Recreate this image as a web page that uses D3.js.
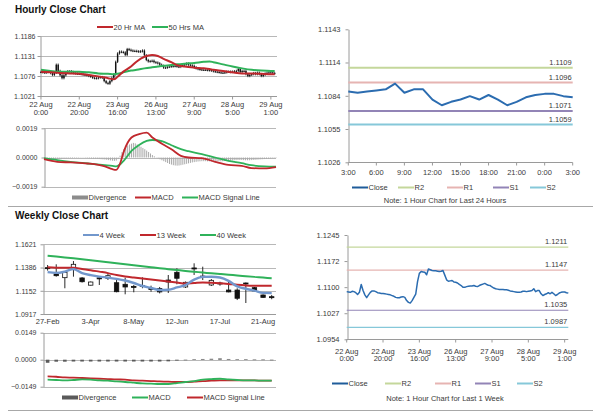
<!DOCTYPE html>
<html>
<head>
<meta charset="utf-8">
<script src="https://cdn.jsdelivr.net/npm/d3@7"></script>
<style>
  body { margin: 0; background: #fff; }
  svg text { font-family: Arial, "Liberation Sans", sans-serif; fill: #3a3a3a; }
</style>
</head>
<body>
<svg id="chart" width="600" height="413"></svg>
<script>
// ---- Hourly data (22 Aug 0:00 -> 29 Aug 3:00, trading hours only) ----
const hourTickIndex = [0, 20, 40, 60, 80, 100, 120];
const hourTickLabels = [
  ['22 Aug', '0:00'], ['22 Aug', '20:00'], ['23 Aug', '16:00'], ['26 Aug', '13:00'],
  ['27 Aug', '9:00'], ['28 Aug', '5:00'], ['29 Aug', '1:00']
];
const hourlyClose = [
  1.1087, 1.1086, 1.1085, 1.1088, 1.1087, 1.1084, 1.1079, 1.1085, 1.1107, 1.1090,
  1.1078, 1.1070, 1.1078, 1.1085, 1.1089, 1.1089, 1.1087, 1.1084, 1.1083, 1.1082,
  1.1082, 1.1081, 1.1080, 1.1079, 1.1078, 1.1076, 1.1074, 1.1071, 1.1070, 1.1070,
  1.1072, 1.1073, 1.1071, 1.1062, 1.1057, 1.1055, 1.1062, 1.1071, 1.1080, 1.1115,
  1.1138, 1.1143, 1.1142, 1.1141, 1.1134, 1.1150, 1.1148, 1.1146, 1.1145, 1.1145,
  1.1144, 1.1143, 1.1144, 1.1146, 1.1133, 1.1120, 1.1116, 1.1117, 1.1118, 1.1114,
  1.1113, 1.1111, 1.1107, 1.1104, 1.1099, 1.1099, 1.1101, 1.1102, 1.1103, 1.1103,
  1.1104, 1.1102, 1.1101, 1.1104, 1.1106, 1.1108, 1.1110, 1.1107, 1.1105, 1.1104,
  1.1100, 1.1097, 1.1095, 1.1094, 1.1093, 1.1093, 1.1093, 1.1092, 1.1092, 1.1091,
  1.1089, 1.1088, 1.1087, 1.1086, 1.1085, 1.1085, 1.1086, 1.1088, 1.1088, 1.1087,
  1.1088, 1.1089, 1.1090, 1.1095, 1.1087, 1.1090, 1.1090, 1.1081, 1.1076, 1.1079,
  1.1081, 1.1084, 1.1081, 1.1085, 1.1081, 1.1076, 1.1079, 1.1083, 1.1085, 1.1086,
  1.1086, 1.1084, 1.1083
];
const hourPriceTicks = [1.1021, 1.1076, 1.1131, 1.1186];
// moving averages, read at these hour indices
const maIdx = [0, 5, 10, 15, 20, 25, 30, 35, 38, 40, 43, 47, 50, 54, 58, 61, 64, 68, 71, 75,
  80, 85, 88, 90, 95, 100, 105, 110, 115, 120, 122];
const ma20 = [1.1088, 1.1086, 1.1084, 1.1083, 1.1082, 1.1079, 1.1075, 1.1070, 1.1067, 1.1074,
  1.1088, 1.1102, 1.1116, 1.1129, 1.1134, 1.1131, 1.1123, 1.1114, 1.1106, 1.1102,
  1.1099, 1.1097, 1.1095, 1.1093, 1.1090, 1.1086, 1.1083, 1.1083, 1.1082, 1.1081, 1.1081];
const ma50 = [1.1093, 1.1090, 1.1088, 1.1088, 1.1088, 1.1086, 1.1083, 1.1082, 1.1081, 1.1082,
  1.1086, 1.1091, 1.1093, 1.1097, 1.1100, 1.1102, 1.1104, 1.1106, 1.1108, 1.1110,
  1.1112, 1.1115, 1.1116, 1.1114, 1.1108, 1.1102, 1.1097, 1.1093, 1.1091, 1.1090, 1.1090];
// hourly MACD
const hMacdTicks = [-0.0019, 0.0000, 0.0019];
const macdIdx = [0, 7, 14, 23, 32, 36, 38, 40, 42, 46, 50, 54, 57, 62, 67, 72, 76, 83, 90, 97,
  104, 109, 116, 122];
const hMacd = [-0.00011, -0.00028, -0.00032, -0.00039, -0.00058, -0.00076, -0.00080, -0.00040,
  0.00040, 0.00130, 0.00152, 0.00162, 0.00130, 0.00090, 0.00054, 0.00011, 0.00000, -0.00004,
  -0.00028, -0.00048, -0.00054, -0.00069, -0.00071, -0.00062];
const hSignal = [-0.00004, -0.00017, -0.00028, -0.00039, -0.00050, -0.00055, -0.00058, -0.00045,
  -0.00020, 0.00043, 0.00082, 0.00108, 0.00114, 0.00106, 0.00080, 0.00054, 0.00041, 0.00022,
  0.00000, -0.00022, -0.00037, -0.00050, -0.00058, -0.00060];
const hDivergence = [
  -0.00005, -0.00006, -0.00008, -0.00010, -0.00011, -0.00012, -0.00012, -0.00011, -0.00010, -0.00009,
  -0.00008, -0.00007, -0.00006, -0.00005, -0.00004, -0.00004, -0.00003, -0.00003, -0.00003, -0.00002,
  -0.00002, -0.00002, -0.00003, -0.00004, -0.00005, -0.00006, -0.00007, -0.00008, -0.00009, -0.00010,
  -0.00011, -0.00012, -0.00013, -0.00015, -0.00017, -0.00019, -0.00021, -0.00022, -0.00020, -0.00010,
  0.00012, 0.00035, 0.00055, 0.00068, 0.00078, 0.00085, 0.00090, 0.00095, 0.00092, 0.00085,
  0.00078, 0.00070, 0.00062, 0.00054, 0.00045, 0.00036, 0.00026, 0.00016, 0.00008, 0.00002,
  -0.00005, -0.00012, -0.00018, -0.00024, -0.00030, -0.00036, -0.00042, -0.00046, -0.00050, -0.00052,
  -0.00053, -0.00052, -0.00050, -0.00047, -0.00044, -0.00041, -0.00038, -0.00035, -0.00032, -0.00030,
  -0.00028, -0.00026, -0.00025, -0.00024, -0.00024, -0.00024, -0.00025, -0.00025, -0.00026, -0.00026,
  -0.00026, -0.00026, -0.00025, -0.00025, -0.00024, -0.00023, -0.00022, -0.00021, -0.00020, -0.00019,
  -0.00018, -0.00017, -0.00016, -0.00016, -0.00016, -0.00017, -0.00018, -0.00018, -0.00018, -0.00017,
  -0.00016, -0.00015, -0.00014, -0.00013, -0.00012, -0.00011, -0.00010, -0.00009, -0.00008, -0.00007,
  -0.00006, -0.00005, -0.00004
];

// ---- Last 24 hours + pivot levels ----
const dayStart = 98; // 28 Aug 3:00
const dayTickIndex = [0, 3, 6, 9, 12, 15, 18, 21, 24];
const dayTickLabels = ['3:00', '6:00', '9:00', '12:00', '15:00', '18:00', '21:00', '0:00', '3:00'];
const dayPriceTicks = [1.10258, 1.10551, 1.10843, 1.11136, 1.11428];
const dayPriceLabels = ['1.1026', '1.1055', '1.1084', '1.1114', '1.1143'];
const weekHourTicks = [1.0954, 1.102675, 1.10995, 1.117225, 1.1245];
const weekHourLabels = ['1.0954', '1.1027', '1.1100', '1.1172', '1.1245'];
const levelNames = ['R2', 'R1', 'S1', 'S2'];
const levelColors = ['#c4d79b', '#e6b4b2', '#9284b6', '#86c8d9'];
const dayLevels = [1.1109, 1.1096, 1.1071, 1.1059];
const weekLevels = [1.1211, 1.1147, 1.1035, 1.0987];

// ---- Weekly data ----
const weekTickIndex = [0, 5, 10, 15, 20, 25];
const weekTickLabels = ['27-Feb', '3-Apr', '8-May', '12-Jun', '17-Jul', '21-Aug'];
const weekPriceTicks = [1.0917, 1.115167, 1.138633, 1.1621];
const wMacdTicks = [-0.0149, 0.0000, 0.0149];
const wOpen  = [1.1385, 1.1321, 1.1284, 1.1379, 1.1281, 1.1208, 1.1282, 1.1278, 1.1233, 1.1217,
  1.1196, 1.1206, 1.1175, 1.1175, 1.1260, 1.1338, 1.1190, 1.1382, 1.1300, 1.1210,
  1.1230, 1.1159, 1.1159, 1.1230, 1.1183, 1.1109, 1.1092];
const wHigh  = [1.1412, 1.1419, 1.1345, 1.1452, 1.1290, 1.1245, 1.1290, 1.1328, 1.1260, 1.1284,
  1.1210, 1.1288, 1.1203, 1.1190, 1.1311, 1.1379, 1.1245, 1.1429, 1.1395, 1.1270,
  1.1243, 1.1260, 1.1177, 1.1235, 1.1190, 1.1115, 1.1109];
const wLow   = [1.1355, 1.1294, 1.1177, 1.1294, 1.1235, 1.1205, 1.1210, 1.1261, 1.1136, 1.1116,
  1.1136, 1.1177, 1.1142, 1.1125, 1.1129, 1.1217, 1.1180, 1.1311, 1.1260, 1.1200,
  1.1203, 1.1136, 1.1058, 1.1028, 1.1145, 1.1080, 1.1066];
const wClose = [1.1375, 1.1304, 1.1338, 1.1419, 1.1243, 1.1240, 1.1276, 1.1304, 1.1142, 1.1190,
  1.1190, 1.1200, 1.1165, 1.1140, 1.1240, 1.1278, 1.1237, 1.1376, 1.1296, 1.1257,
  1.1224, 1.1140, 1.1076, 1.1224, 1.1150, 1.1085, 1.1085];
const w4 = [1.1340, 1.1332, 1.1345, 1.1370, 1.1330, 1.1310, 1.1295, 1.1285, 1.1272, 1.1255,
  1.1230, 1.1200, 1.1180, 1.1160, 1.1162, 1.1185, 1.1210, 1.1265, 1.1292, 1.1294,
  1.1286, 1.1252, 1.1196, 1.1172, 1.1153, 1.1130, 1.1128];
const w13 = [1.1390, 1.1385, 1.1383, 1.1385, 1.1372, 1.1360, 1.1345, 1.1330, 1.1310, 1.1295,
  1.1285, 1.1275, 1.1265, 1.1255, 1.1245, 1.1235, 1.1225, 1.1230, 1.1235, 1.1232,
  1.1227, 1.1220, 1.1212, 1.1206, 1.1203, 1.1202, 1.1202];
const w40 = [1.1506, 1.1497, 1.1488, 1.1479, 1.1469, 1.1459, 1.1449, 1.1439, 1.1429, 1.1419,
  1.1409, 1.1399, 1.1389, 1.1379, 1.1370, 1.1361, 1.1352, 1.1344, 1.1336, 1.1328,
  1.1321, 1.1314, 1.1306, 1.1299, 1.1292, 1.1285, 1.1278];
const wMacd = [-0.0110, -0.0112, -0.0114, -0.0112, -0.0109, -0.0110, -0.0114, -0.0116, -0.0120, -0.0123,
  -0.0127, -0.0131, -0.0132, -0.0134, -0.0134, -0.0129, -0.0123, -0.0118, -0.0110, -0.0107,
  -0.0105, -0.0109, -0.0112, -0.0114, -0.0114, -0.0116, -0.0116];
const wSignal = [-0.0092, -0.0094, -0.0098, -0.0099, -0.0101, -0.0103, -0.0105, -0.0107, -0.0109, -0.0110,
  -0.0114, -0.0116, -0.0118, -0.0120, -0.0121, -0.0123, -0.0123, -0.0121, -0.0118, -0.0116,
  -0.0114, -0.0114, -0.0114, -0.0114, -0.0114, -0.0116, -0.0116];
const wDivergence = [-0.0017, -0.0011, -0.0011, -0.0010, -0.0010, -0.0010, -0.0010, -0.0010, -0.0010, -0.0010,
  -0.0010, -0.0010, -0.0010, -0.0010, -0.0009, -0.0005, -0.0002, 0.0002, 0.0004, 0.0005,
  0.0007, 0.0004, 0.0003, 0.0002, 0.0001, 0.0001, 0.0000];

// ---- colours ----
const RED = '#c0282d';
const GREEN = '#2fb25a';
const BLUE = '#2b6cb0';
const LIGHTBLUE = '#7297cc';
const GRID = '#b8b8b8';
const AXIS = '#9a9a9a';

const svg = d3.select('#chart');
const fmt4 = d3.format('.4f');

// left value axis with optional horizontal grid
function yAxis(y, ticks, x0, x1, opts) {
  const g = svg.append('g');
  if (opts.grid) {
    g.selectAll('line.grid').data(ticks).enter().append('line')
      .attr('x1', x0).attr('x2', x1)
      .attr('y1', d => Math.round(y(d)) + 0.5).attr('y2', d => Math.round(y(d)) + 0.5)
      .attr('stroke', GRID).attr('stroke-width', 1);
  }
  const labels = opts.labels;
  const ax = d3.axisLeft(y).tickValues(ticks)
    .tickFormat((d, k) => labels ? labels[k] : fmt4(d))
    .tickSize(3).tickSizeOuter(0).tickPadding(opts.pad || 3);
  const a = g.append('g').attr('transform', `translate(${Math.round(x0) + 0.5},0)`).call(ax);
  a.select('.domain').attr('stroke', AXIS);
  a.selectAll('.tick line').attr('stroke', AXIS);
  a.selectAll('.tick text').attr('font-size', opts.size || 7).attr('fill', '#3a3a3a')
    .attr('font-family', 'Arial, "Liberation Sans", sans-serif');
  return g;
}

// bottom line axis with tick marks
function xBaseline(yPos, x0, x1, tickXs) {
  const yy = Math.round(yPos) + 0.5;
  svg.append('line').attr('x1', x0).attr('x2', x1).attr('y1', yy).attr('y2', yy)
    .attr('stroke', AXIS);
  svg.selectAll(null).data(tickXs).enter().append('line')
    .attr('x1', d => d).attr('x2', d => d).attr('y1', yy).attr('y2', yy + 3)
    .attr('stroke', AXIS);
}

function twoLineLabels(xs, labels, yTop, size) {
  labels.forEach((lab, k) => {
    const t = svg.append('text').attr('text-anchor', 'middle').attr('font-size', size);
    t.append('tspan').attr('x', xs[k]).attr('y', yTop).text(lab[0]);
    t.append('tspan').attr('x', xs[k]).attr('y', yTop + 7.6).text(lab[1]);
  });
}

function legend(items, y) {
  items.forEach(it => {
    if (it.box) {
      svg.append('rect').attr('x', it.x).attr('y', y - 2).attr('width', 16).attr('height', 4)
        .attr('fill', it.color);
    } else {
      svg.append('line').attr('x1', it.x).attr('x2', it.x + 16).attr('y1', y).attr('y2', y)
        .attr('stroke', it.color).attr('stroke-width', 2);
    }
    svg.append('text').attr('x', it.x + 16.5).attr('y', y + 2.6)
      .attr('font-size', 7.5).text(it.label);
  });
}

function title(text, x, y) {
  svg.append('text').attr('x', x).attr('y', y).attr('font-size', 10)
    .attr('font-weight', 'bold').style('fill', '#111').text(text);
}

function linePath(xs, ys, x, y, color, width) {
  const line = d3.line().x((d, k) => x(xs[k])).y(d => y(d)).curve(d3.curveMonotoneX);
  svg.append('path').datum(ys).attr('d', line).attr('fill', 'none')
    .attr('stroke', color).attr('stroke-width', width).attr('stroke-linejoin', 'round');
}

// separators
[206, 410].forEach(yy => {
  svg.append('line').attr('x1', 8).attr('x2', 593).attr('y1', yy + 0.5).attr('y2', yy + 0.5)
    .attr('stroke', '#a8a8a8');
});

// ================= Hourly close chart (top left) =================
title('Hourly Close Chart', 15, 12.5);
legend([
  { x: 97, color: RED, label: '20 Hr MA' },
  { x: 152, color: GREEN, label: '50 Hrs MA' }
], 27);

const xH = d3.scaleLinear().domain([-0.5, 123.2]).range([40, 277]);
const yH = d3.scaleLinear().domain(d3.extent(hourPriceTicks)).range([96, 36]);
yAxis(yH, hourPriceTicks, 40, 277, { grid: true, pad: 2 });
xBaseline(yH(hourPriceTicks[0]), 40, 277, hourTickIndex.map(i => xH(i)));
twoLineLabels(hourTickIndex.map(i => xH(i)), hourTickLabels, 107, 7.5);

// candles: open = previous close
const hCandles = hourlyClose.map((c, i) => ({ i, o: i > 0 ? hourlyClose[i - 1] : c, c }));
svg.append('g').selectAll('line').data(hCandles).enter().append('line')
  .attr('x1', d => xH(d.i)).attr('x2', d => xH(d.i))
  .attr('y1', d => yH(Math.max(d.o, d.c)) - 1.2)
  .attr('y2', d => yH(Math.min(d.o, d.c)) + 1.2)
  .attr('stroke', '#111').attr('stroke-width', 0.8);
svg.append('g').selectAll('rect').data(hCandles).enter().append('rect')
  .attr('x', d => xH(d.i) - 0.7).attr('width', 1.4)
  .attr('y', d => yH(Math.max(d.o, d.c)))
  .attr('height', d => Math.max(1, Math.abs(yH(d.o) - yH(d.c))))
  .attr('fill', '#111');

linePath(maIdx, ma50, xH, yH, GREEN, 2);
linePath(maIdx, ma20, xH, yH, RED, 2);

// hourly MACD panel
const xHM = d3.scaleLinear().domain([0, 122]).range([44, 276]);
const yHM = d3.scaleLinear().domain(d3.extent(hMacdTicks)).range([186.7, 128.3]);
yAxis(yHM, hMacdTicks, 44, 276, { grid: true, pad: 4 });
svg.append('g').selectAll('rect').data(hDivergence).enter().append('rect')
  .attr('x', (d, i) => xHM(i) - 0.5).attr('width', 1)
  .attr('y', d => Math.min(yHM(0), yHM(d)))
  .attr('height', d => Math.abs(yHM(d) - yHM(0)))
  .attr('fill', '#a9a9a9');
linePath(macdIdx, hSignal, xHM, yHM, GREEN, 1.8);
linePath(macdIdx, hMacd, xHM, yHM, RED, 1.8);
legend([
  { x: 72, color: '#8c8c8c', label: 'Divergence', box: true },
  { x: 135, color: RED, label: 'MACD' },
  { x: 182, color: GREEN, label: 'MACD Signal Line' }
], 197.5);

// ================= Last 24 hours (top right) =================
const dayClose = hourlyClose.slice(dayStart);
const xD = d3.scaleLinear().domain([0, 24]).range([348.3, 572.7]);
const yD = d3.scaleLinear().domain(d3.extent(dayPriceTicks)).range([162.3, 29.3]);
yAxis(yD, dayPriceTicks, 348.3, 572.7, { grid: false, pad: 5, size: 7.5, labels: dayPriceLabels });
xBaseline(yD(dayPriceTicks[0]), 348.3, 572.7, dayTickIndex.map(i => xD(i)));
svg.selectAll(null).data(dayTickIndex).enter().append('text')
  .attr('x', i => xD(i)).attr('y', 174.5).attr('text-anchor', 'middle')
  .attr('font-size', 7.5).text((i, k) => dayTickLabels[k]);

function levelLines(levels, x, y, x0, x1, width) {
  levels.forEach((v, k) => {
    svg.append('line').attr('x1', x0).attr('x2', x1).attr('y1', y(v)).attr('y2', y(v))
      .attr('stroke', levelColors[k]).attr('stroke-width', width);
    svg.append('text').attr('x', x1 - 1).attr('y', y(v) - 3).attr('text-anchor', 'end')
      .attr('font-size', 7.5).text(fmt4(v));
  });
}
levelLines(dayLevels, xD, yD, 348.3, 572.7, 2);
svg.append('path').datum(dayClose)
  .attr('d', d3.line().x((d, i) => xD(i)).y(d => yD(d)))
  .attr('fill', 'none').attr('stroke', BLUE).attr('stroke-width', 2)
  .attr('stroke-linejoin', 'round');

legend([{ x: 352, color: '#1f5c9a', label: 'Close' }].concat(
  levelNames.map((n, k) => ({ x: [398, 447, 493, 530][k], color: levelColors[k], label: n }))), 187.5);
svg.append('text').attr('x', 445).attr('y', 203).attr('text-anchor', 'middle')
  .attr('font-size', 7.5).text('Note: 1 Hour Chart for Last 24 Hours');

// ================= Weekly close chart (bottom left) =================
title('Weekly Close Chart', 15, 219);
legend([
  { x: 83, color: LIGHTBLUE, label: '4 Week' },
  { x: 140, color: RED, label: '13 Week' },
  { x: 200, color: GREEN, label: '40 Week' }
], 235);

const xW = d3.scaleBand().domain(d3.range(wClose.length)).range([43.3, 276]);
const wx = i => xW(i) + xW.bandwidth() / 2;
const yW = d3.scaleLinear().domain(d3.extent(weekPriceTicks)).range([314, 244.3]);
yAxis(yW, weekPriceTicks, 43.3, 276, { grid: true, pad: 4 });
xBaseline(yW(weekPriceTicks[0]), 43.3, 276, []);
svg.selectAll(null).data(weekTickIndex).enter().append('text')
  .attr('x', i => wx(i)).attr('y', 324).attr('text-anchor', 'middle')
  .attr('font-size', 7.5).text((i, k) => weekTickLabels[k]);

const wCandles = wClose.map((c, i) => ({ i, o: wOpen[i], h: wHigh[i], l: wLow[i], c }));
const wg = svg.append('g');
wg.selectAll('line').data(wCandles).enter().append('line')
  .attr('x1', d => wx(d.i)).attr('x2', d => wx(d.i))
  .attr('y1', d => yW(d.h)).attr('y2', d => yW(d.l))
  .attr('stroke', '#111').attr('stroke-width', 0.9);
wg.selectAll('rect').data(wCandles).enter().append('rect')
  .attr('x', d => wx(d.i) - 2.2).attr('width', 4.4)
  .attr('y', d => yW(Math.max(d.o, d.c)))
  .attr('height', d => Math.max(1, Math.abs(yW(d.o) - yW(d.c))))
  .attr('fill', d => d.c >= d.o ? '#fff' : '#111')
  .attr('stroke', '#111').attr('stroke-width', 0.8);

function wLine(vals, y, color, width) {
  svg.append('path').datum(vals)
    .attr('d', d3.line().x((d, i) => wx(i)).y(d => y(d)).curve(d3.curveMonotoneX))
    .attr('fill', 'none').attr('stroke', color).attr('stroke-width', width)
    .attr('stroke-linejoin', 'round');
}
wLine(w40, yW, GREEN, 2);
wLine(w13, yW, RED, 2);
wLine(w4, yW, LIGHTBLUE, 2.4);

// weekly MACD panel
const yWM = d3.scaleLinear().domain(d3.extent(wMacdTicks)).range([386.7, 332.7]);
yAxis(yWM, wMacdTicks, 43.3, 276, { grid: true, pad: 4 });
svg.append('g').selectAll('rect').data(wDivergence).enter().append('rect')
  .attr('x', (d, i) => wx(i) - 1.8).attr('width', 3.6)
  .attr('y', d => Math.min(yWM(0), yWM(d)))
  .attr('height', d => Math.max(0.6, Math.abs(yWM(d) - yWM(0))))
  .attr('fill', '#5a5a5a');
wLine(wSignal, yWM, RED, 1.8);
wLine(wMacd, yWM, GREEN, 1.8);
legend([
  { x: 62, color: '#5a5a5a', label: 'Divergence', box: true },
  { x: 132, color: GREEN, label: 'MACD' },
  { x: 187, color: RED, label: 'MACD Signal Line' }
], 397.5);

// ================= Hourly, last week (bottom right) =================
const xB = d3.scaleLinear().domain([0, 122]).range([346.7, 568.3]);
const yB = d3.scaleLinear().domain(d3.extent(weekHourTicks)).range([339.3, 235]);
yAxis(yB, weekHourTicks, 346.7, 568.3, { grid: false, pad: 5, size: 7.5, labels: weekHourLabels });
xBaseline(yB(weekHourTicks[0]), 346.7, 568.3, hourTickIndex.map(i => xB(i)));
twoLineLabels(hourTickIndex.map(i => xB(i)), hourTickLabels, 353.5, 7.5);
levelLines(weekLevels, xB, yB, 346.7, 568.3, 1.2);
svg.append('path').datum(hourlyClose)
  .attr('d', d3.line().x((d, i) => xB(i)).y(d => yB(d)))
  .attr('fill', 'none').attr('stroke', BLUE).attr('stroke-width', 1.5)
  .attr('stroke-linejoin', 'round');
legend([{ x: 332, color: '#1f5c9a', label: 'Close' }].concat(
  levelNames.map((n, k) => ({ x: [385, 435, 475, 517][k], color: levelColors[k], label: n }))), 383.5);
svg.append('text').attr('x', 445).attr('y', 401).attr('text-anchor', 'middle')
  .attr('font-size', 7.5).text('Note: 1 Hour Chart for Last 1 Week');
</script>
</body>
</html>
